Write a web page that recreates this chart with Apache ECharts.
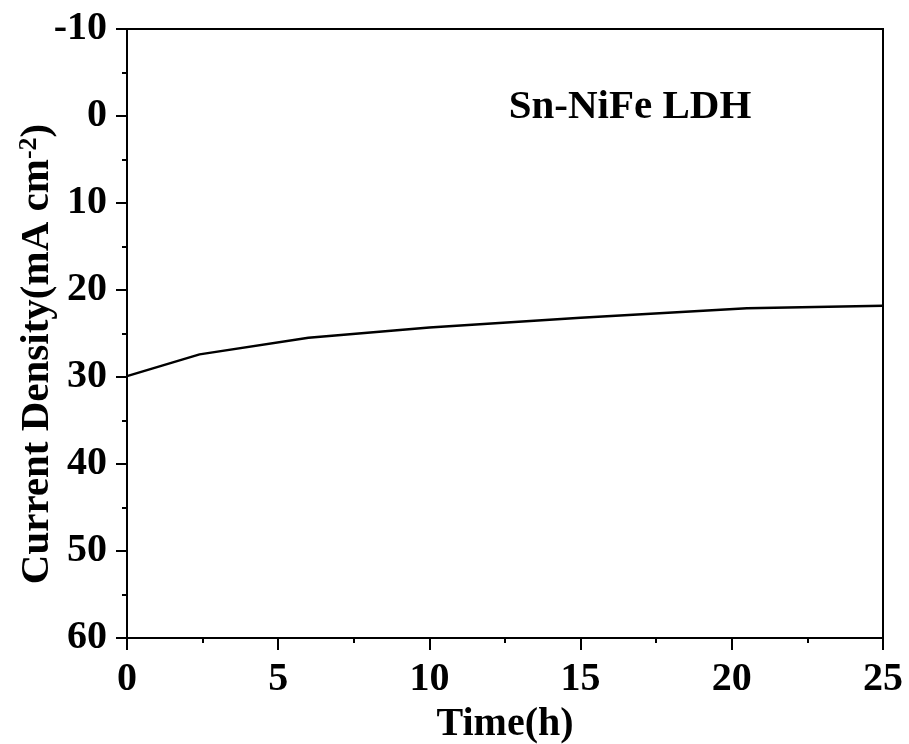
<!DOCTYPE html>
<html>
<head>
<meta charset="utf-8">
<script src="https://cdn.jsdelivr.net/npm/echarts@6/dist/echarts.min.js"></script>
<style>html,body{margin:0;padding:0;background:#fff;}#c{width:909px;height:744px;}</style>
</head>
<body>
<div id="c"></div>
<script>
const timeH = [0, 2.4, 6, 10, 15, 20.5, 25];
const currentDensity = [29.9, 27.4, 25.5, 24.3, 23.2, 22.1, 21.8];
const yTicks = [-10, 60, 10];
const xTicks = [0, 25, 5];
const sampleLabel = 'Sn-NiFe LDH';

const font = '"Liberation Serif", "Times New Roman", serif';
const chart = echarts.init(document.getElementById('c'), null, {renderer: 'canvas'});
chart.setOption({
  animation: false,
  backgroundColor: '#fff',
  grid: {left: 127, right: 26, top: 29, bottom: 106, containLabel: false, outerBoundsMode: 'none', show: true, borderColor: '#000', borderWidth: 2, backgroundColor: 'transparent'},
  xAxis: {
    type: 'value', min: xTicks[0], max: xTicks[1], interval: xTicks[2],
    name: 'Time(h)', nameLocation: 'middle', nameGap: 59,
    nameTextStyle: {fontFamily: font, fontWeight: 'bold', fontSize: 40, color: '#000'},
    axisLine: {show: true, onZero: false, lineStyle: {color: '#000', width: 2}},
    axisTick: {show: true, inside: false, length: 12, lineStyle: {color: '#000', width: 2}},
    minorTick: {show: true, splitNumber: 2, length: 5, lineStyle: {color: '#000', width: 2}},
    axisLabel: {margin: 22, fontFamily: font, fontWeight: 'bold', fontSize: 40, color: '#000'},
    splitLine: {show: false}
  },
  yAxis: {
    type: 'value', inverse: true, min: yTicks[0], max: yTicks[1], interval: yTicks[2],
    axisLine: {show: true, onZero: false, lineStyle: {color: '#000', width: 2}},
    axisTick: {show: true, inside: false, length: 11, lineStyle: {color: '#000', width: 2}},
    minorTick: {show: true, splitNumber: 2, length: 5, lineStyle: {color: '#000', width: 2}},
    axisLabel: {margin: 20, fontFamily: font, fontWeight: 'bold', fontSize: 40, color: '#000'},
    splitLine: {show: false}
  },
  graphic: [
    {
      type: 'text', x: 37, y: 354, rotation: Math.PI / 2,
      style: {
        text: '{n|Current Density(mA cm}{s|-2}{n|)}',
        align: 'center', verticalAlign: 'middle',
        rich: {
          n: {fontFamily: font, fontWeight: 'bold', fontSize: 41, fill: '#000'},
          s: {fontFamily: font, fontWeight: 'bold', fontSize: 26, fill: '#000', verticalAlign: 'top', padding: [0, 0, 16, 0]}
        }
      }
    },
    {
      type: 'text', x: 630, y: 107,
      style: {text: sampleLabel, align: 'center', verticalAlign: 'middle', fontFamily: font, fontWeight: 'bold', fontSize: 41, fill: '#000'}
    }
  ],
  series: [{
    type: 'line', data: timeH.map((t, i) => [t, currentDensity[i]]),
    showSymbol: false, smooth: false,
    lineStyle: {color: '#000', width: 2.5}
  }]
});
</script>
</body>
</html>
